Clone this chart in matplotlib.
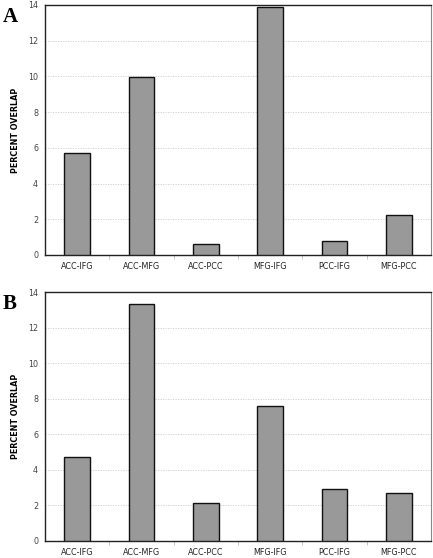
import matplotlib
matplotlib.use("Agg")
import matplotlib.pyplot as plt
import numpy as np

categories = ["ACC-IFG", "ACC-MFG", "ACC-PCC", "MFG-IFG", "PCC-IFG", "MFG-PCC"]
values_a = [5.7, 9.95, 0.6, 13.87, 0.8, 2.25]
values_b = [4.73, 13.32, 2.12, 7.6, 2.9, 2.68]
yticks = [0, 2, 4, 6, 8, 10, 12, 14]

fig = plt.figure(figsize=(4.33, 5.58), dpi=100)
W, H = 433, 558
panels = [("A", values_a, (45, 5, 431, 255)), ("B", values_b, (45, 292, 431, 541))]

for label, vals, (x0, y0, x1, y1) in panels:
    ax = fig.add_axes([x0 / W, 1 - y1 / H, (x1 - x0) / W, (y1 - y0) / H])
    x = np.arange(len(categories))
    ax.bar(x, vals, width=0.4, color="#999999", edgecolor="#111111", linewidth=1.0, zorder=3)
    ax.set_xlim(-0.5, len(categories) - 0.5)
    ax.set_ylim(0, 14)
    ax.set_yticks(yticks)
    ax.set_yticklabels([str(t) for t in yticks], fontsize=5.8, color="#444444")
    ax.set_xticks(x)
    ax.set_xticklabels(categories, fontsize=5.8, color="#222222")
    ax.tick_params(axis="x", length=0, pad=5)
    ax.tick_params(axis="y", length=0, pad=5)
    ax.set_xticks(np.arange(0.5, len(categories) - 0.5, 1.0), minor=True)
    ax.tick_params(axis="x", which="minor", length=3, color="#bbbbbb", direction="out")
    for yv in yticks[1:-1]:
        ax.axhline(yv, color="#cccccc", linestyle=(0, (1.5, 1.5)), linewidth=0.6, zorder=1)
    for s in ["left", "bottom", "top"]:
        ax.spines[s].set_color("#222222")
        ax.spines[s].set_linewidth(1.0)
    ax.spines["right"].set_color("#888888")
    ax.spines["right"].set_linewidth(0.8)
    ax.set_ylabel("PERCENT OVERLAP", fontsize=5.8, fontweight="bold", labelpad=6)
    fig.text(3 / W, 1 - (y0 + 12) / H, label, fontsize=15, fontweight="bold",
             family="Liberation Serif", va="center", ha="left")

fig.savefig("out.png", dpi=100)
